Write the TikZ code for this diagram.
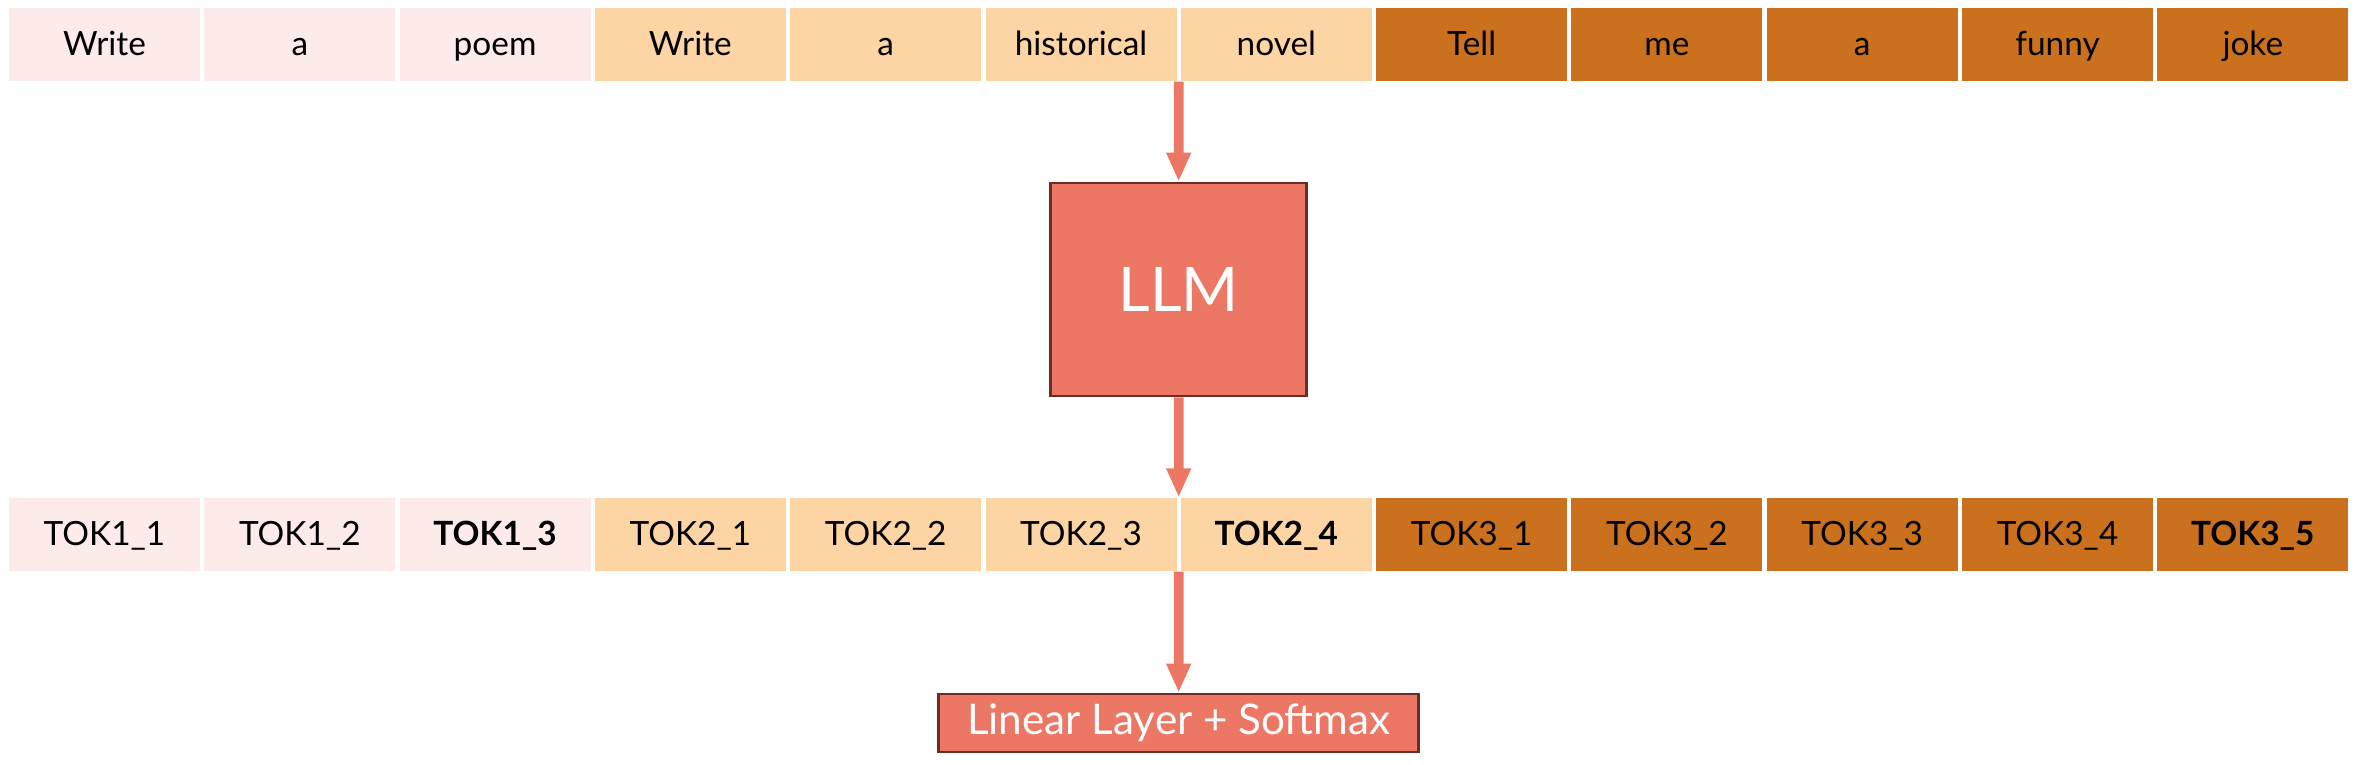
\documentclass[tikz,border=0pt]{standalone}
\usepackage{fontspec}
\setmainfont{Lato}
\usetikzlibrary{arrows.meta,calc}

\definecolor{pinkc}{HTML}{FCEBE9}
\definecolor{peachc}{HTML}{FDD4A4}
\definecolor{orangec}{HTML}{CB711E}
\definecolor{salmon}{HTML}{EC7765}
\definecolor{rim}{HTML}{6B2E27}

\tikzset{
	cell/.style={minimum width=1.91cm, minimum height=0.73cm, inner sep=0pt, text height=1.55ex, text depth=0.3ex, font=\fontsize{9.5}{11}\selectfont},
	block/.style={fill=salmon, draw=rim, line width=0.8pt, text=white, inner sep=0pt},
	flow/.style={salmon, line width=2.8pt, -{Triangle[width=0.23cm, length=0.29cm]}}
}

\begin{document}
\begin{tikzpicture}
		\useasboundingbox (0,0) rectangle (23.56,-7.64);

		% prompt words
		\foreach \w/\c [count=\i] in {Write/pinkc, a/pinkc, poem/pinkc, Write/peachc, a/peachc, historical/peachc, novel/peachc, Tell/orangec, me/orangec, a/orangec, funny/orangec, joke/orangec} {
			\node[cell, fill=\c] (w-\i) at ({1.045+(\i-1)*1.953}, -0.445) {\w};
		}

		% output tokens
		\foreach \w/\c [count=\i] in {TOK1\_1/pinkc, TOK1\_2/pinkc, \textbf{TOK1\_3}/pinkc, TOK2\_1/peachc, TOK2\_2/peachc, TOK2\_3/peachc, \textbf{TOK2\_4}/peachc, TOK3\_1/orangec, TOK3\_2/orangec, TOK3\_3/orangec, TOK3\_4/orangec, \textbf{TOK3\_5}/orangec} {
			\node[cell, fill=\c] (t-\i) at ({1.045+(\i-1)*1.953}, -5.345) {\w};
		}

		\node[block, minimum width=2.56cm, minimum height=2.13cm, font=\fontsize{17.5}{20}\selectfont] (llm) at (11.787, -2.895) {LLM};
		\node[block, minimum width=4.80cm, minimum height=0.58cm, font=\fontsize{12}{14}\selectfont] (lin) at (11.787, -7.23) {Linear Layer + Softmax};

		\coordinate (in) at ($(w-6.south east)!.5!(w-7.south west)$);
		\coordinate (tin) at ($(t-6.north east)!.5!(t-7.north west)$);
		\coordinate (tout) at ($(t-6.south east)!.5!(t-7.south west)$);

		\draw[flow] (in) -- (llm);
		\draw[flow] (llm) -- (tin);
		\draw[flow] (tout) -- (lin);
	\end{tikzpicture}
\end{document}
